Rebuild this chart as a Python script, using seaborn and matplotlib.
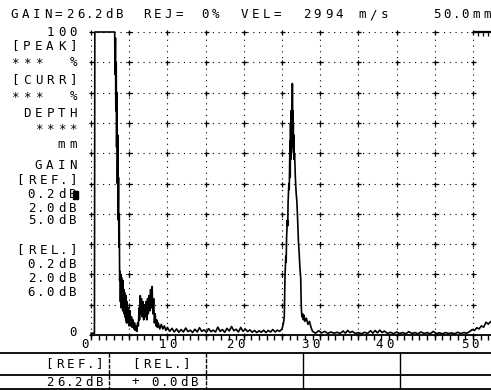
import numpy as np
import pandas as pd
import matplotlib
matplotlib.use("Agg")
import matplotlib.pyplot as plt
import seaborn as sns

W, H = 491, 390

# A-scan trace: depth (mm) vs. echo amplitude (% of screen height)
depth_mm = [
    0.0, 0.45, 0.5, 3.1, 3.15, 3.2, 3.25, 3.3, 3.35, 3.4, 3.45, 3.5, 3.55, 3.6,
    3.65, 3.7, 3.75, 3.8, 3.85, 3.9, 3.95, 4.0, 4.05, 4.1, 4.15, 4.2, 4.25, 4.3,
    4.35, 4.4, 4.45, 4.5, 4.55, 4.6, 4.65, 4.7, 4.8, 4.9, 5.0, 5.1, 5.2, 5.3,
    5.4, 5.5, 5.6, 5.7, 5.8, 5.9, 6.0, 6.1, 6.2, 6.3, 6.35, 6.45, 6.5, 6.6, 6.7,
    6.8, 6.9, 7.0, 7.1, 7.2, 7.3, 7.4, 7.5, 7.6, 7.7, 7.8, 7.9, 8.0, 8.1, 8.2,
    8.3, 8.4, 8.5, 8.6, 8.7, 8.8, 9.0, 9.2, 9.4, 9.6, 9.8,
    10.0, 10.3, 10.6, 10.9, 11.2, 11.5, 11.8, 12.1, 12.4, 12.7, 13.0, 13.3,
    13.6, 13.9, 14.2, 14.5, 14.8, 15.1, 15.4, 15.7, 16.0, 16.3, 16.6, 16.9,
    17.2, 17.5, 17.8, 18.1, 18.4, 18.7, 19.0, 19.3, 19.6, 19.9, 20.2, 20.5,
    20.8, 21.1, 21.4, 21.7, 22.0, 22.3, 22.6, 22.9, 23.2, 23.5, 23.8, 24.1,
    24.4, 24.7,
    25.0, 25.2, 25.3, 25.35, 25.4, 25.5, 25.55, 25.6, 25.7, 25.75, 25.8, 25.9,
    25.95, 26.0, 26.05, 26.08, 26.12, 26.15, 26.18, 26.21, 26.24, 26.27, 26.3,
    26.33, 26.36, 26.39, 26.42, 26.45, 26.48, 26.51, 26.54, 26.57, 26.65,
    26.75, 26.85, 26.95, 27.05, 27.15, 27.25, 27.35, 27.45, 27.5, 27.55, 27.6,
    27.7, 27.8, 27.9, 28.0, 28.2, 28.4, 28.6, 28.8,
    29.0, 29.4, 29.8, 30.2, 30.6, 31.0, 31.4, 31.8, 32.2, 32.6, 33.0, 33.3,
    33.6, 33.9, 34.2, 34.6, 35.0, 35.4, 35.8, 36.2, 36.6, 36.9, 37.2, 37.5,
    37.8, 38.1, 38.4, 38.8, 39.2, 39.6, 40.0, 40.4, 40.8, 41.2, 41.6, 42.0,
    42.4, 42.8, 43.2, 43.6, 44.0, 44.4, 44.8, 45.2, 45.6, 46.0, 46.4, 46.8,
    47.2, 47.6, 48.0, 48.4, 48.8, 49.2, 49.6, 49.9, 50.2, 50.5, 50.8, 51.1,
    51.4, 51.7, 52.0, 52.36,
]
amp_pct = [
    0.6, 0.6, 100, 100, 86, 98, 74, 90, 62, 80, 50, 66, 38, 52,
    29, 40, 18, 21, 11, 20, 9, 19, 12, 17, 8, 18, 9, 15,
    7, 14, 6, 12, 5, 13, 4, 11, 4, 9, 3, 8, 3, 6,
    2.5, 5, 2, 4, 1.5, 3, 1.2, 4, 3, 9, 5, 13, 7, 12, 6,
    11, 5, 10, 6, 11, 5, 12, 7, 13, 8, 15, 9, 16, 7, 12,
    4, 7, 3, 5, 2.5, 4, 2, 3.5, 2, 3, 1.5,
    2.5, 1.2, 2.2, 1.0, 2.0, 0.9, 1.8, 1.0, 2.3, 1.1, 1.6, 0.8,
    1.9, 1.0, 2.4, 1.2, 1.7, 0.9, 2.1, 1.1, 1.6, 1.0, 2.6, 1.2,
    1.8, 0.9, 2.2, 1.3, 2.8, 1.4, 1.9, 1.0, 2.5, 1.2, 2.0, 1.1,
    1.7, 0.9, 1.5, 0.8, 1.4, 0.9, 1.6, 0.8, 1.5, 1.0, 1.8, 1.0,
    1.6, 1.2,
    2, 4, 6, 14, 20, 26, 24, 32, 38, 36, 44, 50,
    48, 56, 64, 52, 70, 58, 74, 61, 72, 63, 76,
    66, 83, 68, 74, 62, 70, 60, 66, 58, 60,
    52, 47, 44, 38, 31, 27, 22, 19, 12, 8, 6,
    7, 5, 6.5, 4.5, 5.5, 3.5, 4.5, 2.5,
    1.2, 0.6, 1.4, 0.7, 1.2, 0.5, 1.0, 0.6, 0.9, 0.5, 1.3, 0.6,
    1.5, 0.8, 1.2, 0.5, 0.8, 0.4, 0.9, 0.5, 1.4, 0.6, 1.5, 0.7,
    1.6, 0.8, 1.3, 0.5, 0.9, 0.4, 1.0, 0.5, 0.8, 0.4, 1.1, 0.5,
    0.8, 0.4, 1.0, 0.5, 0.8, 0.4, 1.2, 0.5, 0.7, 0.4, 0.8, 0.5,
    0.7, 0.4, 0.9, 0.5, 0.8, 0.6, 1.2, 1.8, 1.5, 2.4, 2.0, 3.0,
    2.6, 4.2, 3.6, 4.5,
]

x_ticks = [0, 10, 20, 30, 40, 50]
x_tick_labels = ["0", "10", "20", "30", "40", "50"]

# status line across the top: (text, left pixel)
header_items = [("GAIN=26.2dB", 9), ("REJ=", 141), ("0%", 199), ("VEL=", 239),
                ("2994", 301), ("m/s", 357), ("50.0mm", 431)]

# readout column left of the screen: (text, centre row in pixels)
side_items = [("100", 33), ("[PEAK]", 46), ("***  %", 63), ("[CURR]", 80),
              ("***  %", 97), ("DEPTH", 113), ("****", 129), ("mm", 145),
              ("GAIN", 165), ("[REF.]", 180), ("0.2dB", 195), ("2.0dB", 208),
              ("5.0dB", 221), ("[REL.]", 250), ("0.2dB", 264), ("2.0dB", 278),
              ("6.0dB", 292), ("0", 333)]

# gain table under the screen: (text, left pixel, row)
table_items = [("[REF.]", 43, 364), ("[REL.]", 130, 364),
               ("26.2dB", 44, 382), ("+", 130, 382), ("0.0dB", 150, 382)]

sns.set_style("white")
plt.rcParams["font.family"] = ["DejaVu Sans Mono", "DejaVu Sans"]

fig = plt.figure(figsize=(W / 100, H / 100), dpi=100)
ax = fig.add_axes([91 / W, 1 - 335 / H, (W - 91) / W, (335 - 32) / H])

PITCH = 11.0
FS = 9.0


def advance(ch, pitch):
    return pitch * (0.6 if ch == "." else 1.0)


def spaced_text(px, py, s, align="left", pitch=PITCH):
    widths = [advance(c, pitch) for c in s]
    total = sum(widths)
    x0 = px - total if align == "right" else px
    for c, w in zip(s, widths):
        if c != " ":
            fig.text((x0 + w / 2) / W, 1 - py / H, c, ha="center", va="center",
                     fontsize=FS, color="black")
        x0 += w


# dotted graticule with cross marks at the intersections
grid_x = np.arange(0, 51, 5)
grid_y = np.arange(10, 101, 10)
dot = (0, (1.0, 4.2))
ax.vlines(grid_x, 0, 100, colors="black", linewidth=0.8, linestyles=[dot])
ax.hlines(grid_y, 0, 50, colors="black", linewidth=0.8, linestyles=[dot])
gx, gy = np.meshgrid(grid_x, np.arange(0, 101, 10))
ax.plot(gx.ravel(), gy.ravel(), linestyle="none", marker="+", ms=3.6,
        mew=0.9, color="black", clip_on=False)

# gate marker at full scale beyond the last division
ax.hlines(100, 50, 52.36, colors="black", linewidth=1.6, clip_on=False)
ax.vlines([50.6, 51.3, 52.0], 98.6, 100, colors="black", linewidth=0.9,
          clip_on=False)

trace = pd.DataFrame({"depth": depth_mm, "amp": amp_pct})
sns.lineplot(data=trace, x="depth", y="amp", sort=False, estimator=None,
             color="black", linewidth=1.2, ax=ax, clip_on=False)

ax.set_xlim(0, 52.36)
ax.set_ylim(0, 100)
for side in ("top", "right", "left"):
    ax.spines[side].set_visible(False)
ax.spines["bottom"].set_linewidth(1.3)
ax.spines["bottom"].set_color("black")
ax.set_xticks(x_ticks)
ax.set_xticks(np.arange(0, 53, 1), minor=True)
ax.set_xticklabels([])
ax.tick_params(axis="x", which="both", direction="out", length=3.5, width=1.0,
               color="black", bottom=True)
ax.set_yticks([])
ax.set_xlabel("")
ax.set_ylabel("")

# depth labels under the scale, snapped to the screen's character cells
label_nudge = [-6, 0, -8, -10, -12, -3]
for v, lab, dx in zip(x_ticks, x_tick_labels, label_nudge):
    px, _ = ax.transData.transform((v, 0))
    spaced_text(px + dx - len(lab) * PITCH / 2, 345, lab)

for text, left in header_items:
    spaced_text(left, 15, text)

for text, row in side_items:
    spaced_text(79, row, text, align="right", pitch=11.6)
# cursor block after the active gain step
fig.patches.append(plt.Rectangle((73 / W, 1 - 199 / H), 5 / W, 8 / H,
                                 transform=fig.transFigure, color="black"))

# gain table frame
for y in (353, 375, 389):
    fig.add_artist(plt.Line2D([0, 1], [1 - y / H] * 2, color="black", lw=1.3))
for x, ls in ((109, (0, (3, 1))), (206, (0, (3, 1))), (303, "-"), (400, "-")):
    fig.add_artist(plt.Line2D([x / W] * 2, [1 - 353 / H, 0], color="black",
                              lw=1.0, linestyle=ls))
for text, left, row in table_items:
    spaced_text(left, row, text)

fig.savefig("out.png", dpi=100)
